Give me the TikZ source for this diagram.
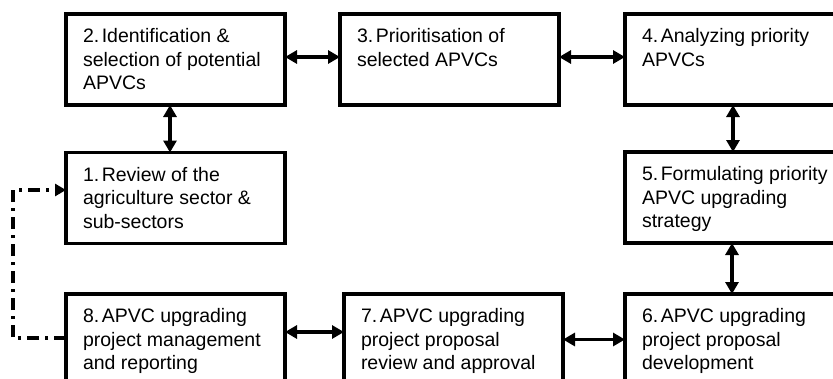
\documentclass[tikz,border=0pt]{standalone}
\usepackage{fontspec}
\setmainfont{Liberation Sans}
\usetikzlibrary{arrows.meta}
\begin{document}
\begin{tikzpicture}[x=1pt,y=-1pt,
  box/.style={draw, line width=3.2pt, minimum width=219pt, minimum height=91pt,
    inner sep=0pt, outer sep=0pt, anchor=north west},
  lbl/.style={anchor=base west, inner sep=0pt, outer sep=0pt,
    font=\fontsize{19.5}{23.5}\selectfont},
  arr/.style={line width=3.2pt, {Triangle[length=12pt,width=13pt]}-{Triangle[length=12pt,width=13pt]}},
  dd/.style={line width=3.2pt, dash pattern=on 12pt off 6pt on 3pt off 6pt,
    -{Triangle[length=11pt,width=12pt]}}]
\useasboundingbox (0,0) rectangle (833,378);
\clip (0,0) rectangle (833,378);

\node[box] (b2) at (66,14) {};
\node[box] (b3) at (340,14) {};
\node[box] (b4) at (625,14) {};
\node[box] (b1) at (66,152.5) {};
\node[box] (b5) at (625,152) {};
\node[box] (b8) at (66,294) {};
\node[box] (b7) at (344,294) {};
\node[box] (b6) at (625,294) {};

\newcommand{\lines}[1]{\parbox[t]{210pt}{\raggedright #1}}
\node[lbl] (t2) at ([shift={(17,28.5)}]b2.north west) {\lines{2.\kern2.5pt Identification \&\\selection of potential\\APVCs}};
\node[lbl] (t3) at ([shift={(17,28.5)}]b3.north west) {\lines{3.\kern2.5pt Prioritisation of\\selected APVCs}};
\node[lbl] (t4) at ([shift={(17,28.5)}]b4.north west) {\lines{4.\kern2.5pt Analyzing priority\\APVCs}};
\node[lbl] (t1) at ([shift={(17,28.5)}]b1.north west) {\lines{1.\kern2.5pt Review of the\\agriculture sector \&\\sub-sectors}};
\node[lbl] (t5) at ([shift={(17,28.5)}]b5.north west) {\lines{5.\kern2.5pt Formulating priority\\APVC upgrading\\strategy}};
\node[lbl] (t8) at ([shift={(17,28.5)}]b8.north west) {\lines{8.\kern2.5pt APVC upgrading\\project management\\and reporting}};
\node[lbl] (t7) at ([shift={(17,28.5)}]b7.north west) {\lines{7.\kern2.5pt APVC upgrading\\project proposal\\review and approval}};
\node[lbl] (t6) at ([shift={(17,28.5)}]b6.north west) {\lines{6.\kern2.5pt APVC upgrading\\project proposal\\development}};

\draw[arr] ([yshift=2.5pt]b2.east) -- ([yshift=2.5pt]b3.west);
\draw[arr] ([yshift=2.5pt]b3.east) -- ([yshift=2.5pt]b4.west);
\draw[arr] ([xshift=-5.5pt]b2.south) -- ([xshift=-5.5pt]b1.north);
\draw[arr] ([xshift=-1.5pt]b4.south) -- ([xshift=-1.5pt]b5.north);
\draw[arr] ([xshift=-2.5pt]b5.south) -- ([xshift=-2.5pt]b6.north);
\draw[arr] ([yshift=7.5pt]b8.east) -- ([yshift=7.5pt]b7.west);
\draw[arr] (b7.east) -- (b6.west);
\draw[dd] ([yshift=1.5pt]b8.west) -- ++(-53,0) |- ([yshift=8pt]b1.west);
\end{tikzpicture}
\end{document}
